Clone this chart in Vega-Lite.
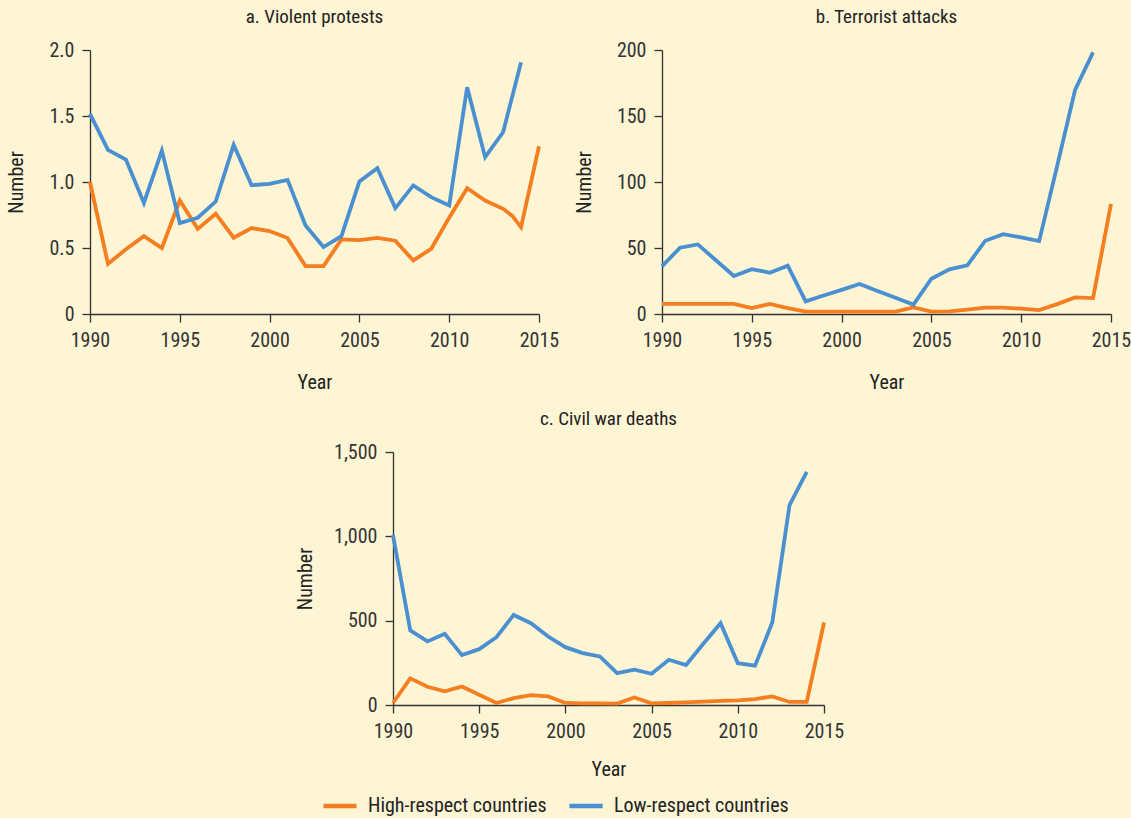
{
  "$schema": "https://vega.github.io/schema/vega-lite/v6.json",
  "background": "#FEF5D5",
  "padding": {"left": 6, "top": 8, "right": 10, "bottom": 4},
  "config": {
    "font": "Liberation Sans Narrow, Roboto Condensed, DejaVu Sans Condensed, Roboto, sans-serif",
    "view": {"stroke": null},
    "axis": {"grid": false, "domainColor": "#333333", "tickColor": "#333333", "labelColor": "#333333", "titleColor": "#222222", "labelFontSize": 20, "titleFontSize": 20, "titleFontWeight": "normal", "tickSize": 8, "domainWidth": 1.3, "tickWidth": 1.3, "labelPadding": 8, "labelFlush": false},
    "axisY": {"titlePadding": 22},
    "axisX": {"titlePadding": 22},
    "title": {"fontSize": 19, "fontWeight": "normal", "color": "#222222", "anchor": "middle", "offset": 13},
    "legend": {"labelFontSize": 20, "labelColor": "#222222", "symbolType": "stroke", "symbolStrokeWidth": 4.5, "symbolSize": 1100, "direction": "horizontal", "title": null, "columnPadding": 13, "labelOffset": 9, "labelLimit": 0, "padding": 0}
  },
  "data": {"values": [
    {"p":"a","g":"High-respect countries","year":1990,"v":1.0},
    {"p":"a","g":"High-respect countries","year":1991,"v":0.38},
    {"p":"a","g":"High-respect countries","year":1992,"v":0.49},
    {"p":"a","g":"High-respect countries","year":1993,"v":0.59},
    {"p":"a","g":"High-respect countries","year":1994,"v":0.5},
    {"p":"a","g":"High-respect countries","year":1995,"v":0.86},
    {"p":"a","g":"High-respect countries","year":1996,"v":0.645},
    {"p":"a","g":"High-respect countries","year":1997,"v":0.76},
    {"p":"a","g":"High-respect countries","year":1998,"v":0.578},
    {"p":"a","g":"High-respect countries","year":1999,"v":0.651},
    {"p":"a","g":"High-respect countries","year":2000,"v":0.628},
    {"p":"a","g":"High-respect countries","year":2001,"v":0.575},
    {"p":"a","g":"High-respect countries","year":2002,"v":0.363},
    {"p":"a","g":"High-respect countries","year":2003,"v":0.363},
    {"p":"a","g":"High-respect countries","year":2004,"v":0.565},
    {"p":"a","g":"High-respect countries","year":2005,"v":0.56},
    {"p":"a","g":"High-respect countries","year":2006,"v":0.577},
    {"p":"a","g":"High-respect countries","year":2007,"v":0.555},
    {"p":"a","g":"High-respect countries","year":2008,"v":0.406},
    {"p":"a","g":"High-respect countries","year":2009,"v":0.494},
    {"p":"a","g":"High-respect countries","year":2010,"v":0.73},
    {"p":"a","g":"High-respect countries","year":2011,"v":0.953},
    {"p":"a","g":"High-respect countries","year":2012,"v":0.86},
    {"p":"a","g":"High-respect countries","year":2013,"v":0.797},
    {"p":"a","g":"High-respect countries","year":2013.5,"v":0.745},
    {"p":"a","g":"High-respect countries","year":2014,"v":0.658},
    {"p":"a","g":"High-respect countries","year":2015,"v":1.271},
    {"p":"a","g":"Low-respect countries","year":1990,"v":1.516},
    {"p":"a","g":"Low-respect countries","year":1991,"v":1.243},
    {"p":"a","g":"Low-respect countries","year":1992,"v":1.17},
    {"p":"a","g":"Low-respect countries","year":1993,"v":0.842},
    {"p":"a","g":"Low-respect countries","year":1994,"v":1.238},
    {"p":"a","g":"Low-respect countries","year":1995,"v":0.689},
    {"p":"a","g":"Low-respect countries","year":1996,"v":0.729},
    {"p":"a","g":"Low-respect countries","year":1997,"v":0.852},
    {"p":"a","g":"Low-respect countries","year":1998,"v":1.281},
    {"p":"a","g":"Low-respect countries","year":1999,"v":0.976},
    {"p":"a","g":"Low-respect countries","year":2000,"v":0.986},
    {"p":"a","g":"Low-respect countries","year":2001,"v":1.016},
    {"p":"a","g":"Low-respect countries","year":2002,"v":0.671},
    {"p":"a","g":"Low-respect countries","year":2003,"v":0.507},
    {"p":"a","g":"Low-respect countries","year":2004,"v":0.59},
    {"p":"a","g":"Low-respect countries","year":2005,"v":1.004},
    {"p":"a","g":"Low-respect countries","year":2006,"v":1.105},
    {"p":"a","g":"Low-respect countries","year":2007,"v":0.802},
    {"p":"a","g":"Low-respect countries","year":2008,"v":0.974},
    {"p":"a","g":"Low-respect countries","year":2009,"v":0.885},
    {"p":"a","g":"Low-respect countries","year":2010,"v":0.822},
    {"p":"a","g":"Low-respect countries","year":2011,"v":1.718},
    {"p":"a","g":"Low-respect countries","year":2012,"v":1.188},
    {"p":"a","g":"Low-respect countries","year":2013,"v":1.377},
    {"p":"a","g":"Low-respect countries","year":2014,"v":1.907},
    {"p":"b","g":"High-respect countries","year":1990,"v":7.6},
    {"p":"b","g":"High-respect countries","year":1991,"v":7.6},
    {"p":"b","g":"High-respect countries","year":1992,"v":7.6},
    {"p":"b","g":"High-respect countries","year":1993,"v":7.6},
    {"p":"b","g":"High-respect countries","year":1994,"v":7.6},
    {"p":"b","g":"High-respect countries","year":1995,"v":4.5},
    {"p":"b","g":"High-respect countries","year":1996,"v":7.6},
    {"p":"b","g":"High-respect countries","year":1997,"v":4.5},
    {"p":"b","g":"High-respect countries","year":1998,"v":1.8},
    {"p":"b","g":"High-respect countries","year":1999,"v":1.8},
    {"p":"b","g":"High-respect countries","year":2000,"v":1.8},
    {"p":"b","g":"High-respect countries","year":2001,"v":1.8},
    {"p":"b","g":"High-respect countries","year":2002,"v":1.8},
    {"p":"b","g":"High-respect countries","year":2003,"v":1.8},
    {"p":"b","g":"High-respect countries","year":2004,"v":5.0},
    {"p":"b","g":"High-respect countries","year":2005,"v":1.8},
    {"p":"b","g":"High-respect countries","year":2006,"v":2.0},
    {"p":"b","g":"High-respect countries","year":2007,"v":3.3},
    {"p":"b","g":"High-respect countries","year":2008,"v":4.8},
    {"p":"b","g":"High-respect countries","year":2009,"v":4.8},
    {"p":"b","g":"High-respect countries","year":2010,"v":4.0},
    {"p":"b","g":"High-respect countries","year":2011,"v":3.0},
    {"p":"b","g":"High-respect countries","year":2012,"v":7.5},
    {"p":"b","g":"High-respect countries","year":2013,"v":12.6},
    {"p":"b","g":"High-respect countries","year":2014,"v":12.1},
    {"p":"b","g":"High-respect countries","year":2015,"v":83.5},
    {"p":"b","g":"Low-respect countries","year":1990,"v":36.1},
    {"p":"b","g":"Low-respect countries","year":1991,"v":50.2},
    {"p":"b","g":"Low-respect countries","year":1992,"v":52.7},
    {"p":"b","g":"Low-respect countries","year":1993,"v":40.7},
    {"p":"b","g":"Low-respect countries","year":1994,"v":28.8},
    {"p":"b","g":"Low-respect countries","year":1995,"v":34.0},
    {"p":"b","g":"Low-respect countries","year":1996,"v":31.3},
    {"p":"b","g":"Low-respect countries","year":1997,"v":36.6},
    {"p":"b","g":"Low-respect countries","year":1998,"v":9.6},
    {"p":"b","g":"Low-respect countries","year":1999,"v":14.0},
    {"p":"b","g":"Low-respect countries","year":2000,"v":18.3},
    {"p":"b","g":"Low-respect countries","year":2001,"v":22.7},
    {"p":"b","g":"Low-respect countries","year":2002,"v":17.5},
    {"p":"b","g":"Low-respect countries","year":2003,"v":12.3},
    {"p":"b","g":"Low-respect countries","year":2004,"v":7.1},
    {"p":"b","g":"Low-respect countries","year":2005,"v":26.7},
    {"p":"b","g":"Low-respect countries","year":2006,"v":33.8},
    {"p":"b","g":"Low-respect countries","year":2007,"v":36.8},
    {"p":"b","g":"Low-respect countries","year":2008,"v":55.5},
    {"p":"b","g":"Low-respect countries","year":2009,"v":60.5},
    {"p":"b","g":"Low-respect countries","year":2010,"v":58.0},
    {"p":"b","g":"Low-respect countries","year":2011,"v":55.2},
    {"p":"b","g":"Low-respect countries","year":2012,"v":112.0},
    {"p":"b","g":"Low-respect countries","year":2013,"v":169.7},
    {"p":"b","g":"Low-respect countries","year":2014,"v":198.2},
    {"p":"c","g":"High-respect countries","year":1990,"v":12},
    {"p":"c","g":"High-respect countries","year":1991,"v":158},
    {"p":"c","g":"High-respect countries","year":1992,"v":108},
    {"p":"c","g":"High-respect countries","year":1993,"v":81},
    {"p":"c","g":"High-respect countries","year":1994,"v":110},
    {"p":"c","g":"High-respect countries","year":1995,"v":61},
    {"p":"c","g":"High-respect countries","year":1996,"v":12},
    {"p":"c","g":"High-respect countries","year":1997,"v":41},
    {"p":"c","g":"High-respect countries","year":1998,"v":59},
    {"p":"c","g":"High-respect countries","year":1999,"v":51},
    {"p":"c","g":"High-respect countries","year":2000,"v":12},
    {"p":"c","g":"High-respect countries","year":2001,"v":10},
    {"p":"c","g":"High-respect countries","year":2002,"v":10},
    {"p":"c","g":"High-respect countries","year":2003,"v":8},
    {"p":"c","g":"High-respect countries","year":2004,"v":45},
    {"p":"c","g":"High-respect countries","year":2005,"v":10},
    {"p":"c","g":"High-respect countries","year":2006,"v":12},
    {"p":"c","g":"High-respect countries","year":2007,"v":16},
    {"p":"c","g":"High-respect countries","year":2008,"v":20},
    {"p":"c","g":"High-respect countries","year":2009,"v":25},
    {"p":"c","g":"High-respect countries","year":2010,"v":28},
    {"p":"c","g":"High-respect countries","year":2011,"v":35},
    {"p":"c","g":"High-respect countries","year":2012,"v":51},
    {"p":"c","g":"High-respect countries","year":2013,"v":18},
    {"p":"c","g":"High-respect countries","year":2014,"v":18},
    {"p":"c","g":"High-respect countries","year":2015,"v":489},
    {"p":"c","g":"Low-respect countries","year":1990,"v":1007},
    {"p":"c","g":"Low-respect countries","year":1991,"v":442},
    {"p":"c","g":"Low-respect countries","year":1992,"v":377},
    {"p":"c","g":"Low-respect countries","year":1993,"v":422},
    {"p":"c","g":"Low-respect countries","year":1994,"v":296},
    {"p":"c","g":"Low-respect countries","year":1995,"v":331},
    {"p":"c","g":"Low-respect countries","year":1996,"v":402},
    {"p":"c","g":"Low-respect countries","year":1997,"v":534},
    {"p":"c","g":"Low-respect countries","year":1998,"v":485},
    {"p":"c","g":"Low-respect countries","year":1999,"v":406},
    {"p":"c","g":"Low-respect countries","year":2000,"v":343},
    {"p":"c","g":"Low-respect countries","year":2001,"v":308},
    {"p":"c","g":"Low-respect countries","year":2002,"v":288},
    {"p":"c","g":"Low-respect countries","year":2003,"v":189},
    {"p":"c","g":"Low-respect countries","year":2004,"v":209},
    {"p":"c","g":"Low-respect countries","year":2005,"v":185},
    {"p":"c","g":"Low-respect countries","year":2006,"v":268},
    {"p":"c","g":"Low-respect countries","year":2007,"v":237},
    {"p":"c","g":"Low-respect countries","year":2008,"v":363},
    {"p":"c","g":"Low-respect countries","year":2009,"v":485},
    {"p":"c","g":"Low-respect countries","year":2010,"v":248},
    {"p":"c","g":"Low-respect countries","year":2011,"v":233},
    {"p":"c","g":"Low-respect countries","year":2012,"v":489},
    {"p":"c","g":"Low-respect countries","year":2013,"v":1185},
    {"p":"c","g":"Low-respect countries","year":2014,"v":1382}
  ]},
  "spacing": 18,
  "vconcat": [
    {
      "spacing": 15,
      "hconcat": [
        {
          "title": "a. Violent protests",
          "width": 449, "height": 264,
          "transform": [{"filter": "datum.p == 'a'"}],
          "mark": {"type": "line", "strokeWidth": 3.8},
          "encoding": {
            "x": {"field": "year", "type": "quantitative", "scale": {"domain": [1990, 2015], "nice": false, "zero": false}, "axis": {"values": [1990, 1995, 2000, 2005, 2010, 2015], "format": "d", "title": "Year"}},
            "y": {"field": "v", "type": "quantitative", "scale": {"domain": [0, 2], "nice": false}, "axis": {"values": [0, 0.5, 1, 1.5, 2], "labelExpr": "datum.value == 0 ? '0' : format(datum.value, '.1f')", "title": "Number"}},
            "color": {"field": "g", "type": "nominal", "scale": {"domain": ["High-respect countries", "Low-respect countries"], "range": ["#F47E20", "#4A90D0"]}, "legend": {"orient": "none", "legendX": 231, "legendY": 737, "direction": "horizontal"}}
          }
        },
        {
          "title": "b. Terrorist attacks",
          "width": 449, "height": 264,
          "transform": [{"filter": "datum.p == 'b'"}],
          "mark": {"type": "line", "strokeWidth": 3.8},
          "encoding": {
            "x": {"field": "year", "type": "quantitative", "scale": {"domain": [1990, 2015], "nice": false, "zero": false}, "axis": {"values": [1990, 1995, 2000, 2005, 2010, 2015], "format": "d", "title": "Year"}},
            "y": {"field": "v", "type": "quantitative", "scale": {"domain": [0, 200], "nice": false}, "axis": {"values": [0, 50, 100, 150, 200], "format": "d", "title": "Number"}},
            "color": {"field": "g", "type": "nominal", "scale": {"domain": ["High-respect countries", "Low-respect countries"], "range": ["#F47E20", "#4A90D0"]}, "legend": {"orient": "none", "legendX": 231, "legendY": 737, "direction": "horizontal"}}
          }
        }
      ]
    },
    {
      "spacing": 0,
      "hconcat": [
        {
          "width": 205, "height": 1,
          "data": {"values": []},
          "mark": {"type": "point", "opacity": 0}
        },
        {
          "title": "c. Civil war deaths",
          "width": 431, "height": 253,
          "transform": [{"filter": "datum.p == 'c'"}],
          "mark": {"type": "line", "strokeWidth": 3.8},
          "encoding": {
            "x": {"field": "year", "type": "quantitative", "scale": {"domain": [1990, 2015], "nice": false, "zero": false}, "axis": {"values": [1990, 1995, 2000, 2005, 2010, 2015], "format": "d", "title": "Year", "titlePadding": 18}},
            "y": {"field": "v", "type": "quantitative", "scale": {"domain": [0, 1500], "nice": false}, "axis": {"values": [0, 500, 1000, 1500], "format": ",d", "title": "Number", "titlePadding": 18}},
            "color": {"field": "g", "type": "nominal", "scale": {"domain": ["High-respect countries", "Low-respect countries"], "range": ["#F47E20", "#4A90D0"]}, "legend": {"orient": "none", "legendX": 231, "legendY": 737, "direction": "horizontal"}}
          }
        }
      ]
    }
  ]
}
